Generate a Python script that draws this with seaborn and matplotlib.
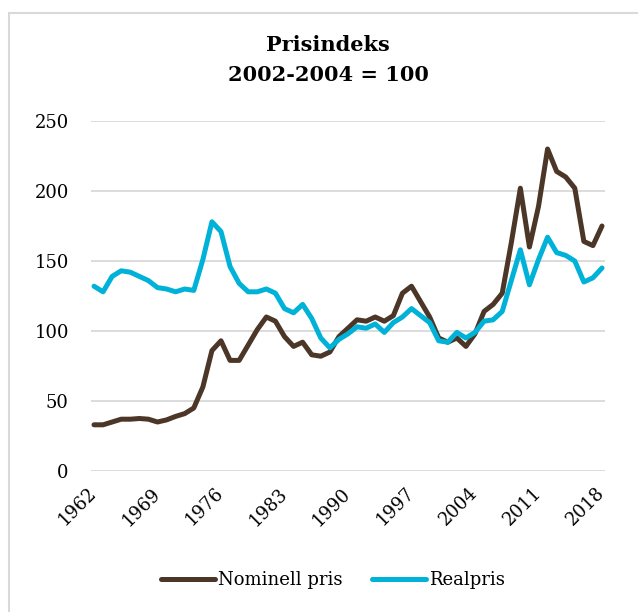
import pandas as pd
import matplotlib.pyplot as plt
import seaborn as sns
from matplotlib.patches import Rectangle
from matplotlib.lines import Line2D

years = list(range(1962, 2019))
nominell = [33, 33, 35, 37, 37, 37.5, 37, 35, 36.5, 39, 41, 45, 60, 86, 93, 79, 79, 90, 101, 110,
            107, 96, 89, 92, 83, 82, 85, 96, 102, 108, 107, 110, 107, 111, 127, 132, 121, 110, 95, 92,
            95, 89, 98, 114, 119, 127, 163, 202, 160, 189, 230, 214, 210, 202, 164, 161, 175]
realpris = [132, 128, 139, 143, 142, 139, 136, 131, 130, 128, 130, 129, 151, 178, 171, 146, 134, 128, 128, 130,
            127, 116, 113, 119, 109, 95, 88, 94, 98, 103, 102, 105, 99, 106, 110, 116, 111, 106, 93, 92,
            99, 95, 99, 107, 108, 114, 136, 158, 133, 151, 167, 156, 154, 150, 135, 138, 145]
xticks = [1962, 1969, 1976, 1983, 1990, 1997, 2004, 2011, 2018]
yticks = [0, 50, 100, 150, 200, 250]

df = pd.DataFrame({"År": years, "Nominell pris": nominell, "Realpris": realpris})
df_long = df.melt(id_vars="År", var_name="Serie", value_name="Indeks")

sns.set_style("white")
plt.rcParams["font.family"] = ["DejaVu Serif"]
plt.rcParams["text.color"] = "black"
plt.rcParams["xtick.color"] = "black"
plt.rcParams["ytick.color"] = "black"

fig = plt.figure(figsize=(6.38, 6.12), dpi=100)
ax = fig.add_axes([91 / 638, 1 - 471 / 612, (605 - 91) / 638, (471 - 121) / 612])

sns.lineplot(data=df_long, x="År", y="Indeks", hue="Serie",
             palette={"Nominell pris": "#4b3628", "Realpris": "#00b2d8"},
             linewidth=3.6, ax=ax, legend=False)
for line in ax.lines:
    line.set_solid_joinstyle("round")
    line.set_solid_capstyle("round")
    line.set_clip_on(False)

ax.set_xlim(1961.67, 2018.33)
ax.set_ylim(0, 250)
ax.set_yticks(yticks)
ax.set_xticks(xticks)
ax.grid(axis="y", color="#d9d9d9", linewidth=1.3)
ax.set_axisbelow(True)
sns.despine(ax=ax, left=True, bottom=True)
ax.tick_params(axis="both", length=0, labelsize=13, labelcolor="black")
ax.tick_params(axis="y", pad=16)
ax.tick_params(axis="x", pad=14)
for lab in ax.get_xticklabels():
    lab.set_rotation(45)
    lab.set_rotation_mode("anchor")
    lab.set_ha("right")
    lab.set_va("center")
ax.set_xlabel("")
ax.set_ylabel("")

fig.text(328 / 638, 1 - 45 / 612, "Prisindeks", ha="center", va="center",
         fontsize=15, fontweight="bold", color="black")
fig.text(328 / 638, 1 - 75 / 612, "2002-2004 = 100", ha="center", va="center",
         fontsize=15, fontweight="bold", color="black")

handles = [Line2D([], [], color="#4b3628", lw=3.6, solid_capstyle="round"),
           Line2D([], [], color="#00b2d8", lw=3.6, solid_capstyle="round")]
leg = fig.legend(handles, ["Nominell pris", "Realpris"], loc="center",
                 bbox_to_anchor=(333 / 638, 1 - 580 / 612), ncol=2, frameon=False,
                 fontsize=13, handlelength=3.0, handletextpad=0.2, columnspacing=1.6)
for t in leg.get_texts():
    t.set_color("black")

fig.patches.append(Rectangle((9 / 638, -0.1), 1.2, 1 - 13 / 612 + 0.1, transform=fig.transFigure,
                             fill=False, edgecolor="#d9d9d9", linewidth=1.5, figure=fig))

plt.savefig("out.png", dpi=100)
